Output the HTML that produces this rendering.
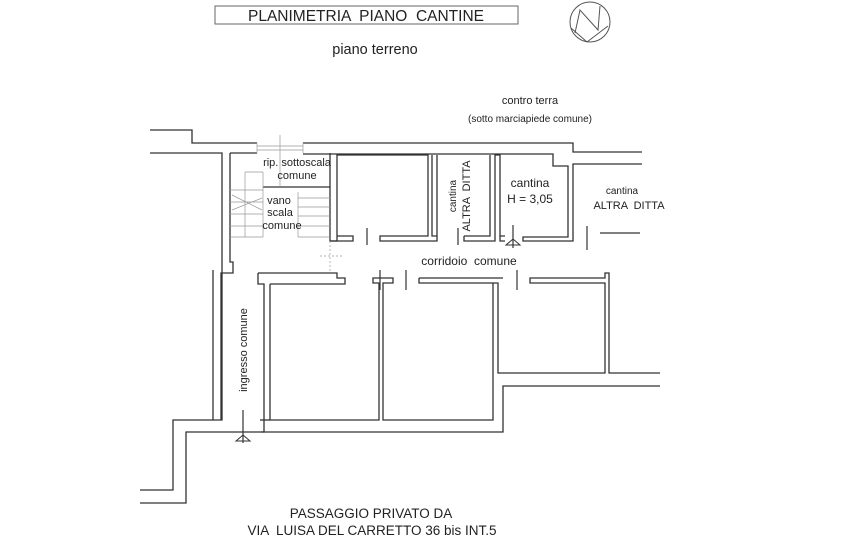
<!DOCTYPE html>
<html><head><meta charset="utf-8"><style>
html,body{margin:0;padding:0;background:#fff;}
svg{display:block}
text{font-family:"Liberation Sans",Arial,sans-serif;fill:#222;white-space:pre}
</style></head><body>
<svg width="853" height="560" viewBox="0 0 853 560" xmlns="http://www.w3.org/2000/svg" xml:space="preserve">
<rect x="215" y="6" width="303" height="18" fill="none" stroke="#666" stroke-width="1"/>
<text x="366" y="21" font-size="15.5" text-anchor="middle">PLANIMETRIA  PIANO  CANTINE</text>
<text x="375" y="54" font-size="14.5" text-anchor="middle">piano terreno</text>
<g fill="none" stroke="#555" stroke-width="1">
<circle cx="590" cy="22" r="20"/>
<polyline points="575,33 580,10 598,30 600,6"/>
<polyline points="571,28 587,42 608,26"/>
</g>
<text x="530" y="104" font-size="11" text-anchor="middle">contro terra</text>
<text x="530" y="122" font-size="10" text-anchor="middle">(sotto marciapiede comune)</text>

<g fill="none" stroke="#333" stroke-width="1.3">
<polyline points="150,130 192,130 192,143 257,143"/>
<polyline points="303,143 573,143 573,152 642,152"/>
<polyline points="150,153 222,153 222,420 173,420 173,490 140,490"/>
<polyline points="230,153 257,153"/>
<polyline points="230,153 230,262 233,262 233,273 221,273 221,420"/>
<polyline points="213,270 213,420"/>
<polyline points="223,432 186,432 186,503 140,503"/>
<polyline points="303,154 553,154 553,166 568,166 568,237 523,237 523,241 573,241 573,164 642,164"/>
<polyline points="263,187 330,187 330,153"/>
<polyline points="330,187 330,241 337,241 337,155 428,155 428,236 380,236 380,241 437,241 437,155"/>
<polyline points="330,241 353,241 353,236 337,236"/>
<polyline points="432,155 432,236 437,236"/>
<polyline points="464,236 464,241 495,241 495,155 500,155 500,236 505,236"/>
<polyline points="490,155 490,236 464,236"/>
<polyline points="500,236 500,241 505,241"/>
<polyline points="258,273 337,273 337,278 345,278 345,284 337,284"/>
<polyline points="258,273 258,284 264,284 264,432 223,432"/>
<polyline points="270,284 337,284"/>
<polyline points="270,284 270,420 379,420 379,283 373,283 373,278 393,278 393,283 383,283 383,420 493,420 493,373"/>
<polyline points="419,278 419,283 498,283 498,373 605,373 605,283 530,283 530,278 605,278 605,273 609,273 609,373 660,373"/>
<polyline points="419,278 503,278"/>
<polyline points="493,373 493,283"/>
<polyline points="261,432 503,432 503,386 660,386"/>
<polyline points="260,420 270,420"/>
<polyline points="600,233 640,233 M600,233 600,238 605,238 605,244 M605,238 640,238"/>
</g>
<g stroke="#333" stroke-width="1.2">
<line x1="367" y1="228" x2="367" y2="245"/>
<line x1="458" y1="228" x2="458" y2="245"/>
<line x1="587" y1="226" x2="587" y2="250"/>
<line x1="380" y1="270" x2="380" y2="290"/>
<line x1="406" y1="270" x2="406" y2="290"/>
<line x1="517" y1="270" x2="517" y2="290"/>
<line x1="243" y1="410" x2="243" y2="443"/>
<line x1="513" y1="225" x2="513" y2="248"/>
</g>
<polygon points="506,245 513,239 520,245" fill="none" stroke="#333"/>
<polygon points="236,441 243,435 250,441" fill="none" stroke="#333"/>
<g stroke="#999" stroke-width="0.7" fill="none">
<line x1="257" y1="143" x2="257" y2="153"/><line x1="303" y1="143" x2="303" y2="153"/>
<line x1="257" y1="146" x2="303" y2="146"/><line x1="257" y1="150" x2="303" y2="150"/>
<line x1="280" y1="135" x2="280" y2="187"/>
<line x1="245" y1="172" x2="263" y2="172"/>
<line x1="245" y1="172" x2="245" y2="237"/><line x1="263" y1="172" x2="263" y2="237"/>
<line x1="230" y1="190" x2="263" y2="190"/><line x1="230" y1="202" x2="263" y2="202"/>
<line x1="230" y1="214" x2="263" y2="214"/><line x1="230" y1="226" x2="263" y2="226"/>
<line x1="230" y1="237" x2="263" y2="237"/>
<line x1="232" y1="195" x2="262" y2="210"/><line x1="232" y1="210" x2="262" y2="198"/>
<line x1="298" y1="192" x2="298" y2="237"/>
<line x1="298" y1="198" x2="330" y2="198"/><line x1="298" y1="207" x2="330" y2="207"/>
<line x1="298" y1="216" x2="330" y2="216"/><line x1="298" y1="226" x2="330" y2="226"/>
<line x1="298" y1="237" x2="330" y2="237"/>
<line x1="330" y1="241" x2="330" y2="273" stroke-dasharray="2,2"/>
<line x1="320" y1="256" x2="342" y2="256" stroke-dasharray="2,2"/>
</g>
<text x="297" y="166" font-size="11" text-anchor="middle">rip. sottoscala</text>
<text x="297" y="179" font-size="11" text-anchor="middle">comune</text>
<text x="279" y="204" font-size="11" text-anchor="middle">vano</text>
<text x="280" y="216" font-size="11" text-anchor="middle">scala</text>
<text x="282" y="229" font-size="11" text-anchor="middle">comune</text>
<text transform="translate(456,196) rotate(-90)" font-size="10" text-anchor="middle">cantina</text>
<text transform="translate(470,196) rotate(-90)" font-size="11" text-anchor="middle">ALTRA  DITTA</text>
<text x="530" y="187" font-size="12" text-anchor="middle">cantina</text>
<text x="530" y="203" font-size="12" text-anchor="middle">H = 3,05</text>
<text x="622" y="194" font-size="10" text-anchor="middle">cantina</text>
<text x="629" y="209" font-size="11" text-anchor="middle">ALTRA  DITTA</text>
<text x="469" y="265" font-size="12" text-anchor="middle">corridoio  comune</text>
<text transform="translate(247,350) rotate(-90)" font-size="11" text-anchor="middle">ingresso comune</text>
<text x="371" y="518" font-size="13.5" text-anchor="middle">PASSAGGIO PRIVATO DA</text>
<text x="372" y="535" font-size="13.5" text-anchor="middle">VIA  LUISA DEL CARRETTO 36 bis INT.5</text>
</svg>
</body></html>
